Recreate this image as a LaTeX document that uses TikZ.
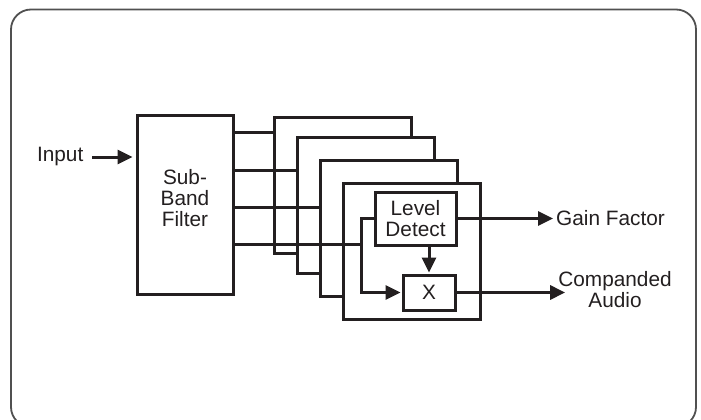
\documentclass[tikz,border=0pt]{standalone}
\usepackage{fontspec}
\setmainfont{Liberation Sans}
\usetikzlibrary{arrows.meta}
\definecolor{ink}{RGB}{35,31,32}
\definecolor{frame}{RGB}{80,80,80}
\begin{document}
\begin{tikzpicture}[x=1pt,y=-1pt,
  ln/.style={line width=3pt, draw=ink},
  box/.style={ln, fill=white, inner sep=0pt},
  arr/.style={ln, -{Triangle[length=15pt,width=14pt]}},
  lbl/.style={font=\fontsize{20.8}{21}\selectfont, text=ink, inner sep=0pt, align=center}]
\useasboundingbox (0,0) rectangle (701,420);
\draw[draw=frame, line width=1.8pt, rounded corners=20pt] (11,9.5) rectangle (696,427);
% sub-band filter
\node[box, lbl, minimum width=96pt, minimum height=179pt, text depth=13pt] (filter) at (185,204.5) {Sub-\\Band\\Filter};
\node[lbl, anchor=east] (inp) at (83.5,157) {Input};
\draw[arr, shorten <=8.5pt, shorten >=3pt] (inp.east) -- (inp.east -| filter.west);
% stacked channel planes
\foreach \n/\cx/\cy in {1/343/185, 2/365.5/205.5, 3/388.5/228, 4/411.5/251}
  \node[box, minimum width=137pt, minimum height=136pt] (B\n) at (\cx,\cy) {};
\draw[ln] (filter.east |- 0,132.5) -- (B1.west |- 0,132.5);
\draw[ln] (filter.east |- 0,170) -- (B2.west |- 0,170);
\draw[ln] (filter.east |- 0,207) -- (B3.west |- 0,207);
\coordinate (split) at (361,244);
\draw[ln] (filter.east |- split) -- (split);
% level detect and multiplier
\node[box, lbl, minimum width=81pt, minimum height=53pt] (LD) at (415.5,218.5) {Level\\Detect};
\node[box, lbl, minimum width=52pt, minimum height=35pt] (X) at (429,292.5) {X};
\draw[ln] (split) |- (LD.west);
\draw[arr, shorten >=1pt] (split) |- (X.west);
\draw[arr, shorten >=1pt] (LD.south -| X.north) -- (X.north);
% outputs
\node[lbl, anchor=west] (gain) at (556,218) {Gain Factor};
\draw[arr, shorten >=3pt] (LD.east) -- (LD.east -| gain.west);
\node[lbl] (comp) at (615,290) {Companded\\Audio};
\draw[arr] (X.east) -- ([xshift=7pt]X.east -| comp.west);
\end{tikzpicture}
\end{document}
